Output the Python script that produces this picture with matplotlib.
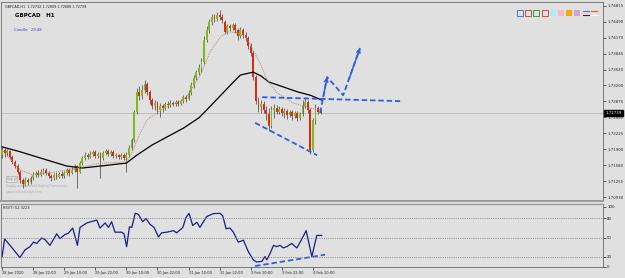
import numpy as np
import matplotlib.pyplot as plt
from matplotlib.patches import Rectangle

# GBPCAD H1 bars, 28 Jan 10:00 -> 4 Feb 13:00 (bar index 0..123)
opens = [1.7178, 1.7189, 1.7182, 1.7187, 1.7174, 1.7164, 1.7156, 1.7144, 1.7128, 1.7119,
         1.7128, 1.7124, 1.7132, 1.7138, 1.7142, 1.7138, 1.7144, 1.7148, 1.7142, 1.7136,
         1.7132, 1.7138, 1.7134, 1.7140, 1.7136, 1.7142, 1.7148, 1.7142, 1.7148, 1.7156,
         1.7144, 1.7162, 1.7172, 1.7178, 1.7174, 1.7180, 1.7185, 1.7176, 1.7180, 1.7172,
         1.7182, 1.7187, 1.7180, 1.7185, 1.7176, 1.7178, 1.7174, 1.7178, 1.7172, 1.7178,
         1.7193, 1.7209, 1.7266, 1.7307, 1.7298, 1.7311, 1.7323, 1.7307, 1.7290, 1.7278,
         1.7284, 1.7270, 1.7278, 1.7274, 1.7282, 1.7280, 1.7284, 1.7282, 1.7286, 1.7282,
         1.7288, 1.7296, 1.7292, 1.7305, 1.7321, 1.7335, 1.7347, 1.7355, 1.7368, 1.7412,
         1.7433, 1.7449, 1.7459, 1.7455, 1.7463, 1.7459, 1.7449, 1.7429, 1.7441, 1.7437,
         1.7443, 1.7433, 1.7420, 1.7433, 1.7423, 1.7416, 1.7400, 1.7386, 1.7337, 1.7288,
         1.7276, 1.7282, 1.7270, 1.7262, 1.7237, 1.7270, 1.7274, 1.7266, 1.7272, 1.7264,
         1.7268, 1.7260, 1.7266, 1.7258, 1.7264, 1.7254, 1.7262, 1.7278, 1.7286, 1.7270,
         1.7189, 1.7250, 1.7274, 1.7266]
highs = [1.7195, 1.7193, 1.7191, 1.7189, 1.7178, 1.7168, 1.7160, 1.7148, 1.7132, 1.7134,
         1.7132, 1.7136, 1.7144, 1.7146, 1.7148, 1.7150, 1.7152, 1.7152, 1.7146, 1.7140,
         1.7142, 1.7144, 1.7144, 1.7146, 1.7146, 1.7152, 1.7152, 1.7154, 1.7160, 1.7158,
         1.7166, 1.7176, 1.7185, 1.7182, 1.7187, 1.7189, 1.7189, 1.7185, 1.7185, 1.7187,
         1.7191, 1.7191, 1.7189, 1.7189, 1.7182, 1.7180, 1.7182, 1.7182, 1.7185, 1.7199,
         1.7213, 1.7270, 1.7315, 1.7319, 1.7321, 1.7331, 1.7327, 1.7311, 1.7294, 1.7290,
         1.7288, 1.7284, 1.7282, 1.7286, 1.7288, 1.7290, 1.7288, 1.7290, 1.7290, 1.7292,
         1.7300, 1.7300, 1.7311, 1.7327, 1.7341, 1.7351, 1.7364, 1.7376, 1.7420, 1.7441,
         1.7455, 1.7465, 1.7465, 1.7469, 1.7473, 1.7465, 1.7453, 1.7445, 1.7445, 1.7447,
         1.7447, 1.7437, 1.7439, 1.7437, 1.7429, 1.7420, 1.7406, 1.7390, 1.7341, 1.7296,
         1.7290, 1.7288, 1.7278, 1.7274, 1.7278, 1.7282, 1.7280, 1.7278, 1.7276, 1.7274,
         1.7272, 1.7270, 1.7270, 1.7268, 1.7268, 1.7266, 1.7290, 1.7296, 1.7290, 1.7274,
         1.7254, 1.7282, 1.7278, 1.7272]
lows = [1.7172, 1.7174, 1.7176, 1.7170, 1.7160, 1.7152, 1.7140, 1.7121, 1.7111, 1.7115,
        1.7117, 1.7119, 1.7128, 1.7134, 1.7134, 1.7136, 1.7140, 1.7138, 1.7132, 1.7126,
        1.7128, 1.7130, 1.7132, 1.7132, 1.7132, 1.7138, 1.7136, 1.7140, 1.7144, 1.7111,
        1.7142, 1.7158, 1.7168, 1.7170, 1.7172, 1.7176, 1.7172, 1.7172, 1.7132, 1.7168,
        1.7178, 1.7176, 1.7176, 1.7172, 1.7172, 1.7170, 1.7170, 1.7168, 1.7144, 1.7174,
        1.7189, 1.7205, 1.7262, 1.7290, 1.7292, 1.7305, 1.7300, 1.7282, 1.7272, 1.7270,
        1.7262, 1.7256, 1.7266, 1.7270, 1.7274, 1.7276, 1.7278, 1.7278, 1.7278, 1.7280,
        1.7284, 1.7286, 1.7290, 1.7300, 1.7315, 1.7331, 1.7341, 1.7347, 1.7364, 1.7408,
        1.7427, 1.7443, 1.7449, 1.7451, 1.7453, 1.7447, 1.7425, 1.7425, 1.7431, 1.7433,
        1.7427, 1.7412, 1.7416, 1.7416, 1.7410, 1.7394, 1.7380, 1.7331, 1.7282, 1.7266,
        1.7264, 1.7264, 1.7250, 1.7227, 1.7233, 1.7254, 1.7262, 1.7262, 1.7258, 1.7254,
        1.7252, 1.7256, 1.7250, 1.7254, 1.7248, 1.7250, 1.7258, 1.7274, 1.7264, 1.7180,
        1.7185, 1.7241, 1.7262, 1.7262]
closes = [1.7189, 1.7182, 1.7187, 1.7174, 1.7164, 1.7156, 1.7144, 1.7128, 1.7119, 1.7128,
          1.7124, 1.7132, 1.7138, 1.7142, 1.7138, 1.7144, 1.7148, 1.7142, 1.7136, 1.7132,
          1.7138, 1.7134, 1.7140, 1.7136, 1.7142, 1.7148, 1.7142, 1.7148, 1.7156, 1.7144,
          1.7162, 1.7172, 1.7178, 1.7174, 1.7180, 1.7185, 1.7176, 1.7180, 1.7172, 1.7182,
          1.7187, 1.7180, 1.7185, 1.7176, 1.7178, 1.7174, 1.7178, 1.7172, 1.7178, 1.7193,
          1.7209, 1.7266, 1.7307, 1.7298, 1.7311, 1.7323, 1.7307, 1.7290, 1.7278, 1.7284,
          1.7270, 1.7278, 1.7274, 1.7282, 1.7280, 1.7284, 1.7282, 1.7286, 1.7282, 1.7288,
          1.7296, 1.7292, 1.7305, 1.7321, 1.7335, 1.7347, 1.7355, 1.7368, 1.7412, 1.7433,
          1.7449, 1.7459, 1.7455, 1.7463, 1.7459, 1.7453, 1.7429, 1.7441, 1.7437, 1.7443,
          1.7433, 1.7420, 1.7433, 1.7423, 1.7416, 1.7400, 1.7386, 1.7337, 1.7288, 1.7276,
          1.7282, 1.7270, 1.7262, 1.7237, 1.7270, 1.7274, 1.7266, 1.7272, 1.7264, 1.7268,
          1.7260, 1.7266, 1.7258, 1.7264, 1.7254, 1.7262, 1.7278, 1.7286, 1.7270, 1.7189,
          1.7250, 1.7274, 1.7266, 1.7264]

# moving averages (bar index, price)
slow_ma_bar = [0, 7, 15, 25, 31, 38, 48, 52, 58, 70, 76, 79, 89, 92, 97, 100, 103, 114, 119, 123.5]
slow_ma_val = [1.7195, 1.7185, 1.7172, 1.7156, 1.7152, 1.7156, 1.7162, 1.7178, 1.7199, 1.7233,
               1.7254, 1.7270, 1.7325, 1.7341, 1.7347, 1.7339, 1.7327, 1.7307, 1.7300, 1.7290]
fast_ma_bar = [0, 7, 12, 18.5, 29, 38, 48, 50, 53, 56, 63, 70, 72.6, 76.4, 80.3, 84.2, 87.3,
               90.7, 94.6, 96.9, 99.6, 102.3, 106.2, 112.4, 118.9, 122.8]
fast_ma_val = [1.7189, 1.7148, 1.7138, 1.7142, 1.7152, 1.7162, 1.7164, 1.7182, 1.7219, 1.7250,
               1.7276, 1.7290, 1.7307, 1.7339, 1.7388, 1.7418, 1.7429, 1.7427, 1.7416, 1.7392,
               1.7366, 1.7331, 1.7305, 1.7284, 1.7274, 1.7270]

# RSI(7)
rsi_bar = [0, 1, 3.1, 6.9, 8.9, 10.8, 12.1, 13.4, 15.3, 16.6, 18.5, 21.1, 22.4, 24.3, 25.6, 27.3,
           29.1, 30.1, 32.7, 36.6, 37.8, 39.8, 41.1, 42.3, 43.6, 46.2, 47.1, 48.1, 49.2, 50.1,
           51.4, 52.6, 54.3, 55.6, 57.1, 58.7, 60.4, 61.6, 63.6, 66.2, 67.4, 69.8, 71.0, 72.2,
           73.6, 75.2, 76.4, 79.0, 81.6, 84.2, 85.2, 86.5, 88.0, 89.3, 91.2, 93.2, 95.1, 97.0,
           98.3, 100.3, 101.5, 102.2, 103.5, 104.8, 106.0, 107.3, 108.6, 109.9, 111.8, 113.8,
           115.1, 117.4, 119.6, 121.5, 123.4]
rsi_val = [20, 48, 38, 19, 31, 36, 43, 41, 49.5, 47, 38, 56, 48.5, 55, 57, 65,
           38, 66, 73, 77.5, 65, 73, 66, 75, 58.6, 58.6, 56, 36, 67, 66,
           88, 86.6, 75, 80, 71, 66, 51, 57.6, 58.6, 61, 57.6, 66, 81.5, 88,
           69, 74, 66, 83, 87.6, 88, 84, 64, 65, 58.6, 43, 46, 28, 15.4,
           12, 13, 20.5, 15.4, 25.6, 38, 36, 38, 34, 36, 41, 34,
           43, 61, 20.5, 53.5, 53.5]

# hand-drawn analysis lines (bar index, price)
lower_line = ([97.7, 121.6], [1.7244, 1.7178])
upper_line = ([100.4, 153.7], [1.7296, 1.7288])
proj_bar = [122.8, 125.5, 131.7, 138.2]
proj_val = [1.7264, 1.7337, 1.7300, 1.7396]
rsi_line = ([97.7, 124.7], [5.7, 23.4])

price_ticks = [1.74815, 1.74490, 1.74170, 1.73845, 1.73520, 1.73200, 1.72875,
               1.72550, 1.72225, 1.71900, 1.71580, 1.71255, 1.70930]
time_ticks = [0, 12, 24, 36, 48, 60, 72, 84, 96, 108, 120]
time_labels = ['28 Jan 2020', '28 Jan 22:00', '29 Jan 10:00', '29 Jan 22:00', '30 Jan 10:00',
               '30 Jan 22:00', '31 Jan 10:00', '31 Jan 22:00', '3 Feb 10:00', '3 Feb 22:00',
               '4 Feb 10:00']

BG = '#e0e0e0'
BULL = '#84b81a'
BEAR = '#dc2a10'
BLUE = '#2f5fe0'

fig = plt.figure(figsize=(6.25, 2.78), dpi=100, facecolor=BG)
ax = fig.add_axes([1/625, 1 - 201/278, 602/625, 199/278], facecolor=BG)
ax2 = fig.add_axes([1/625, 1 - 267/278, 602/625, 63/278], facecolor=BG, sharex=ax)

o = np.array(opens); h = np.array(highs); l = np.array(lows); c = np.array(closes)
idx = np.arange(len(c))
cols = np.where(c >= o, BULL, BEAR)
ax.vlines(idx, l, h, color='#4a4a4a', lw=0.55, zorder=2)
ax.bar(idx, np.maximum(np.abs(c - o), 0.00004), bottom=np.minimum(o, c), width=0.72,
       color=cols, lw=0, zorder=3)

ax.plot(slow_ma_bar, slow_ma_val, color='black', lw=0.9, zorder=4)
ax.plot(fast_ma_bar, fast_ma_val, color='#b48a6c', lw=0.7, ls=(0, (1, 1)), zorder=4)
ax.axhline(c[-1], color='#b4b4b4', lw=0.5, zorder=1)

dash = (0, (3, 1.6))
ax.plot(*lower_line, color=BLUE, lw=1.3, ls=dash, zorder=5)
ax.plot(*upper_line, color=BLUE, lw=1.3, ls=dash, zorder=5)
ax.plot(proj_bar, proj_val, color=BLUE, lw=1.3, ls=dash, zorder=5)
for k in (1, 3):
    ax.annotate('', xy=(proj_bar[k], proj_val[k]), xytext=(proj_bar[k - 1], proj_val[k - 1]),
                arrowprops=dict(arrowstyle='->', color=BLUE, lw=1.1, ls='-',
                                mutation_scale=6, shrinkA=12, shrinkB=0), zorder=5)

ax.set_xlim(-0.4, 232)
ax.set_ylim(1.70849, 1.74896)
ax.yaxis.tick_right()
ax.set_yticks(price_ticks)
ax.set_yticklabels([f'{v:.5f}' for v in price_ticks])
ax.tick_params(axis='y', length=2, width=0.5, labelsize=2.8, pad=1, colors='#202020')
ax.tick_params(axis='x', bottom=False, labelbottom=False)
ax.annotate('1.72739', xy=(1.004, c[-1]), xycoords=('axes fraction', 'data'),
            va='center', ha='left', fontsize=2.8, color='white', annotation_clip=False,
            bbox=dict(boxstyle='square,pad=0.25', fc='black', ec='black'))

ax.text(0.007, 0.985, 'GBPCAD,H1  1.72732 1.72809 1.72688 1.72739', transform=ax.transAxes,
        fontsize=2.4, va='top', color='#202020')
ax.text(0.024, 0.93, 'GBPCAD   H1', transform=ax.transAxes, fontsize=4, fontweight='bold',
        va='center', color='black')
ax.text(0.021, 0.86, 'Candle:  29:48', transform=ax.transAxes, fontsize=2.7,
        va='center', color='#3a3ad0')
ax.text(0.009, 0.077, 'Supply and Demand Trading Community', transform=ax.transAxes,
        fontsize=2.2, color='#a8a8a8', va='center')
ax.text(0.009, 0.045, 'www.selfundforger.com', transform=ax.transAxes,
        fontsize=2.2, color='#a8a8a8', va='center')
ax.text(0.01, 0.11, 'Sup pl', transform=ax.transAxes, fontsize=2.2, color='#909090',
        va='center', bbox=dict(boxstyle='square,pad=0.2', fc='none', ec='#a0a0a0', lw=0.4))

ax2.plot(rsi_bar, rsi_val, color='#1c1c8a', lw=0.9)
ax2.plot(*rsi_line, color=BLUE, lw=1.3, ls=dash)
for lvl in (80, 50, 20):
    ax2.axhline(lvl, color='#7a7a7a', lw=0.6, ls=(0, (1, 1.2)))
ax2.set_ylim(4.2, 102.6)
ax2.yaxis.tick_right()
ax2.set_yticks([4.6, 20, 50, 80, 98])
ax2.set_yticklabels(['0', '20', '50', '80', '100'])
ax2.tick_params(axis='y', length=2, width=0.5, labelsize=2.8, pad=1, colors='#202020')
ax2.set_xticks(time_ticks)
ax2.set_xticklabels(time_labels, ha='left')
ax2.tick_params(axis='x', length=2, width=0.5, labelsize=2.6, pad=1, colors='#202020')
ax2.text(0.004, 0.93, 'RSI(7) 52.3223', transform=ax2.transAxes, fontsize=2.5,
         va='center', color='#202020')

for a in (ax, ax2):
    for s in a.spines.values():
        s.set_color('#6a6a6a')
        s.set_linewidth(0.6)
ax.spines['bottom'].set_color('#9a9a9a')
ax.spines['bottom'].set_linewidth(1.4)
ax2.spines['top'].set_color('#9a9a9a')
ax2.spines['top'].set_linewidth(1.0)

# colour palette buttons, top right
pal = [('none', '#4a78d0'), ('none', '#c05050'), ('none', '#3a9a3a'), ('none', '#e04040'),
       ('#a8f0f0', 'none'), ('#f8b8c8', 'none'), ('#f8a800', 'none'), ('#d8a0d8', 'none')]
for j, (fc, ec) in enumerate(pal):
    x0 = 517 + j * 8.2
    fig.add_artist(Rectangle((x0 / 625, 1 - 16 / 278), 6 / 625, 6 / 278, fc=fc, ec=ec, lw=0.7,
                             transform=fig.transFigure))
fig.add_artist(plt.Line2D([583 / 625, 589 / 625], [1 - 10.5 / 278] * 2, color='#3a7ae0', lw=0.8))
fig.add_artist(plt.Line2D([583 / 625, 589 / 625], [1 - 14.5 / 278] * 2, color='#6a1010', lw=0.8))
fig.add_artist(plt.Line2D([591 / 625, 597 / 625], [1 - 10.5 / 278] * 2, color='#f05030', lw=0.8))
fig.add_artist(plt.Line2D([591 / 625, 597 / 625], [1 - 14.5 / 278] * 2, color='white', lw=0.8))

fig.savefig('out.png', dpi=100, facecolor=BG)
